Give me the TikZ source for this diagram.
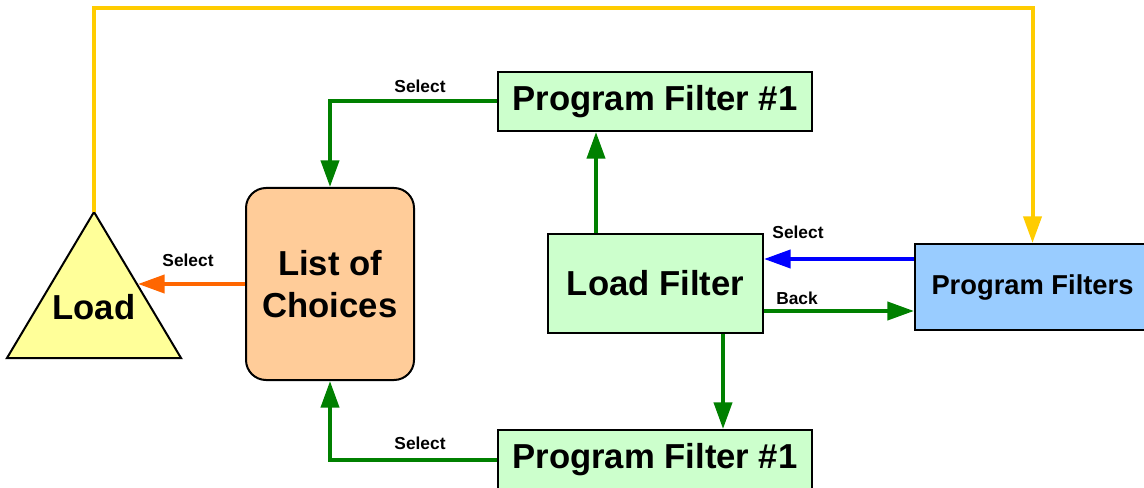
\documentclass[tikz,border=0pt]{standalone}
\usepackage{fontspec}
\setmainfont{Liberation Sans}
\usetikzlibrary{arrows.meta}
\definecolor{flowgreen}{RGB}{0,128,0}
\definecolor{boxgreen}{RGB}{204,255,204}
\definecolor{boxorange}{RGB}{255,204,153}
\definecolor{boxyellow}{RGB}{255,255,153}
\definecolor{boxblue}{RGB}{153,204,255}
\definecolor{lineorange}{RGB}{255,102,0}
\definecolor{lineyellow}{RGB}{255,204,0}

\begin{document}
\begin{tikzpicture}[x=0.75pt,y=-0.75pt,
    box/.style={draw=black,line width=1.5pt,inner sep=0pt,font=\bfseries\fontsize{26}{31.5}\selectfont},
    flow/.style={line width=3pt,-{Triangle[length=20pt,width=13.5pt]}},
    lbl/.style={inner sep=0pt,font=\bfseries\fontsize{13}{15}\selectfont}]
    \useasboundingbox (0,0) rectangle (1144,488);
    \node[box,fill=boxgreen,minimum width=235.5pt,minimum height=44.25pt] (pfA) at (655,101.5) {Program Filter \#1};
    \node[box,fill=boxgreen,minimum width=235.5pt,minimum height=44.25pt] (pfB) at (655,459.5) {Program Filter \#1};
    \node[box,fill=boxorange,rounded corners=15pt,align=center,minimum width=126pt,minimum height=144pt] (choices) at (330,284) {List of\\Choices};
    \node[box,fill=boxgreen,minimum width=161.25pt,minimum height=74.25pt] (loadf) at (655.5,283.5) {Load Filter};
    \node[box,fill=boxblue,minimum width=176.25pt,minimum height=64.5pt,font=\bfseries\fontsize{20.5}{24}\selectfont] (pfs) at (1032.5,287) {Program Filters};
    \draw[line width=1.5pt,fill=boxyellow] (94,212) coordinate (apex) -- (181,358) -- (7,358) -- cycle;
    \node[font=\bfseries\fontsize{26}{31.5}\selectfont,inner sep=0pt] (load) at (94,307) {Load};
    \coordinate (corner) at (94,8);
    \coordinate (loadside) at (138,284);
    \coordinate (upx) at (596,0);
    \coordinate (downx) at (723,0);
    \coordinate (selY) at (0,259);
    \coordinate (backY) at (0,311);
    \draw[flow,lineyellow] (apex) -- (corner) -| (pfs.north);
    \draw[flow,flowgreen] (pfA.west) -| (choices.north);
    \draw[flow,flowgreen] (pfB.west) -| (choices.south);
    \draw[flow,lineorange] (choices.west) -- (loadside);
    \draw[flow,flowgreen] (loadf.north -| upx) -- (pfA.south -| upx);
    \draw[flow,flowgreen] (loadf.south -| downx) -- (pfB.north -| downx);
    \draw[flow,blue] (pfs.west |- selY) -- (loadf.east |- selY);
    \draw[flow,flowgreen] (loadf.east |- backY) -- (pfs.west |- backY);
    \node[lbl] (selA) at (420,86) {Select};
    \node[lbl] (selB) at (420,443) {Select};
    \node[lbl] (selC) at (188,260) {Select};
    \node[lbl] (selD) at (798,232) {Select};
    \node[lbl] (back) at (797,298) {Back};
\end{tikzpicture}
\end{document}
